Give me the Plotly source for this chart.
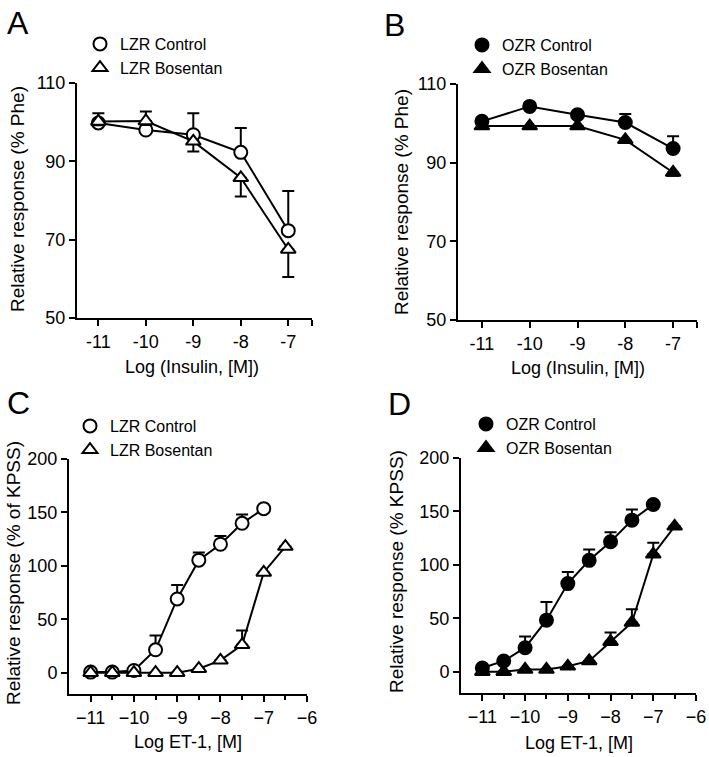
import plotly.graph_objects as go

W, H = 709, 757
FONT = "Arial, Liberation Sans, sans-serif"

# ---- data ----
x_ins = [-11, -10, -9, -8, -7]
lzr_ctrl_ins = [99.8, 98.0, 96.8, 92.3, 72.3]
lzr_ctrl_ins_err = [2.5, 4.7, 5.5, 6.2, 10.1]
lzr_bos_ins = [100.2, 100.3, 95.1, 85.8, 67.5]
lzr_bos_ins_err = [1.0, 1.0, 2.6, 4.8, 7.0]

ozr_ctrl_ins = [100.5, 104.3, 102.2, 100.2, 93.6]
ozr_ctrl_ins_err = [0.5, 0.8, 0.8, 2.2, 3.1]
ozr_bos_ins = [99.3, 99.3, 99.3, 95.8, 87.5]
ozr_bos_ins_err = [0.5, 0.5, 0.5, 0.8, 0.8]

x_et_ctrl = [-11, -10.5, -10, -9.5, -9, -8.5, -8, -7.5, -7]
x_et_bos = [-11, -10.5, -10, -9.5, -9, -8.5, -8, -7.5, -7, -6.5]

lzr_ctrl_et = [0.5, 0.5, 2.0, 21.4, 69.0, 105.3, 120.2, 139.8, 153.5]
lzr_ctrl_et_err = [0, 0, 0, 13.4, 13.0, 7.1, 7.8, 8.2, 1.5]
lzr_bos_et = [0, 0, 0, 0, 0, 3.7, 11.5, 26.0, 93.8, 118.0]
lzr_bos_et_err = [0, 0, 0, 0, 0, 0, 0, 13.5, 0, 0]

ozr_ctrl_et = [3.4, 10.0, 22.4, 48.2, 82.4, 104.2, 121.6, 141.8, 156.4]
ozr_ctrl_et_err = [0, 0, 10.6, 17.1, 10.9, 10.2, 9.0, 9.9, 0]
ozr_bos_et = [0, 0, 2.0, 2.0, 5.0, 10.0, 28.0, 46.0, 109.8, 136.0]
ozr_bos_et_err = [0, 0, 0, 0, 0, 0, 8.7, 12.5, 10.8, 0]


def px_x(v):
    return v / W


def px_y(v):
    return 1 - v / H


fig = go.Figure()


def add_series(x, y, err, up, sym, fill, name, xa, ya, legend):
    zeros = [0] * len(err)
    fig.add_trace(go.Scatter(
        x=x, y=y, mode="lines+markers", xaxis=xa, yaxis=ya, showlegend=False,
        line=dict(color="black", width=2), cliponaxis=False,
        marker=dict(symbol=sym, size=13, color=fill, line=dict(color="black", width=2)),
        error_y=dict(type="data", symmetric=False,
                     array=err if up else zeros, arrayminus=zeros if up else err,
                     color="black", thickness=2, width=6),
    ))
    fig.add_trace(go.Scatter(
        x=[None], y=[None], mode="markers", name=name, xaxis=xa, yaxis=ya, legend=legend,
        marker=dict(symbol=sym, size=13, color=fill, line=dict(color="black", width=2)),
    ))


add_series(x_ins, lzr_ctrl_ins, lzr_ctrl_ins_err, True, "circle", "white", "LZR Control", "x", "y", "legend")
add_series(x_ins, lzr_bos_ins, lzr_bos_ins_err, False, "triangle-up", "white", "LZR Bosentan", "x", "y", "legend")
add_series(x_ins, ozr_ctrl_ins, ozr_ctrl_ins_err, True, "circle", "black", "OZR Control", "x2", "y2", "legend2")
add_series(x_ins, ozr_bos_ins, ozr_bos_ins_err, False, "triangle-up", "black", "OZR Bosentan", "x2", "y2", "legend2")
add_series(x_et_ctrl, lzr_ctrl_et, lzr_ctrl_et_err, True, "circle", "white", "LZR Control", "x3", "y3", "legend3")
add_series(x_et_bos, lzr_bos_et, lzr_bos_et_err, True, "triangle-up", "white", "LZR Bosentan", "x3", "y3", "legend3")
add_series(x_et_ctrl, ozr_ctrl_et, ozr_ctrl_et_err, True, "circle", "black", "OZR Control", "x4", "y4", "legend4")
add_series(x_et_bos, ozr_bos_et, ozr_bos_et_err, True, "triangle-up", "black", "OZR Bosentan", "x4", "y4", "legend4")

axis_common = dict(showline=True, linecolor="black", linewidth=2, ticks="outside",
                   ticklen=6, tickwidth=2, tickcolor="black", showgrid=False, zeroline=False,
                   automargin=False, tickfont=dict(family=FONT, size=18, color="black"))

minor_et = dict(tickvals=[-10.5, -9.5, -8.5, -7.5, -6.5], ticks="outside", ticklen=4,
                tickwidth=2, tickcolor="black", showgrid=False)

# panel boxes in pixels: (left, right, top, bottom)
boxes = {
    "1": (77, 312, 83, 318),
    "2": (458, 697, 84, 320),
    "3": (69, 307, 459, 694),
    "4": (461, 696, 458, 693),
}

layout = dict(
    width=W, height=H, margin=dict(l=0, r=0, t=0, b=0, autoexpand=False),
    paper_bgcolor="white", plot_bgcolor="white",
    font=dict(family=FONT, color="black"),
)

ins_ticks = [-11, -10, -9, -8, -7, -6.5]
ins_text = ["-11", "-10", "-9", "-8", "-7", ""]
et_ticks = [-11, -10, -9, -8, -7, -6]

for k, (l, r, t, b) in boxes.items():
    xk = "xaxis" if k == "1" else "xaxis" + k
    yk = "yaxis" if k == "1" else "yaxis" + k
    anchor_x = "y" if k == "1" else "y" + k
    anchor_y = "x" if k == "1" else "x" + k
    xa = dict(axis_common, domain=[px_x(l), px_x(r)], anchor=anchor_x)
    ya = dict(axis_common, domain=[px_y(b), px_y(t)], anchor=anchor_y)
    if k in ("1", "2"):
        xa.update(range=[-11.45 if k == "1" else -11.5, -6.5], tickvals=ins_ticks, ticktext=ins_text)
        ya.update(range=[50, 110], tickvals=[50, 70, 90, 110])
    else:
        xa.update(range=[-11.5, -6], tickvals=et_ticks, minor=minor_et)
        ya.update(range=[-20, 200], tickvals=[0, 50, 100, 150, 200])
    layout[xk] = xa
    layout[yk] = ya

# legends: (marker center x, first row center y)
legend_pos = {"legend": (100, 43), "legend2": (482, 44), "legend3": (90, 425), "legend4": (486, 423)}
for lk, (mx, my) in legend_pos.items():
    layout[lk] = dict(x=px_x(mx - 20), y=px_y(my - 16), xanchor="left", yanchor="top",
                      bgcolor="rgba(0,0,0,0)", font=dict(family=FONT, size=16, color="black"),
                      itemwidth=30, tracegroupgap=0)

fig.update_layout(**layout)

annots = []
# panel letters
for txt, x, y in [("A", 5, 23), ("B", 382, 25), ("C", 5, 403), ("D", 386, 404)]:
    annots.append(dict(text=txt, x=px_x(x), y=px_y(y), xref="paper", yref="paper",
                       xanchor="left", yanchor="middle", showarrow=False,
                       font=dict(family=FONT, size=32, color="black")))
# x titles
for txt, x, y in [("Log (Insulin, [M])", 192, 367), ("Log (Insulin, [M])", 578, 368),
                  ("Log ET-1, [M]", 188, 742), ("Log ET-1, [M]", 579, 743)]:
    annots.append(dict(text=txt, x=px_x(x), y=px_y(y), xref="paper", yref="paper",
                       xanchor="center", yanchor="middle", showarrow=False,
                       font=dict(family=FONT, size=18, color="black")))
# y titles
for txt, x, y in [("Relative response (% Phe)", 18, 199), ("Relative response (% Phe)", 401, 202),
                  ("Relative response (% of KPSS)", 13, 573), ("Relative response (% KPSS)", 396, 572)]:
    annots.append(dict(text=txt, x=px_x(x), y=px_y(y), xref="paper", yref="paper",
                       xanchor="center", yanchor="middle", showarrow=False, textangle=-90,
                       font=dict(family=FONT, size=19, color="black")))
fig.update_layout(annotations=annots)

# drop the page's default body margin so the figure sits at the window corner
fig.write_html("out.html", config={"displayModeBar": False},
               post_script="document.body.style.margin = '0';")
